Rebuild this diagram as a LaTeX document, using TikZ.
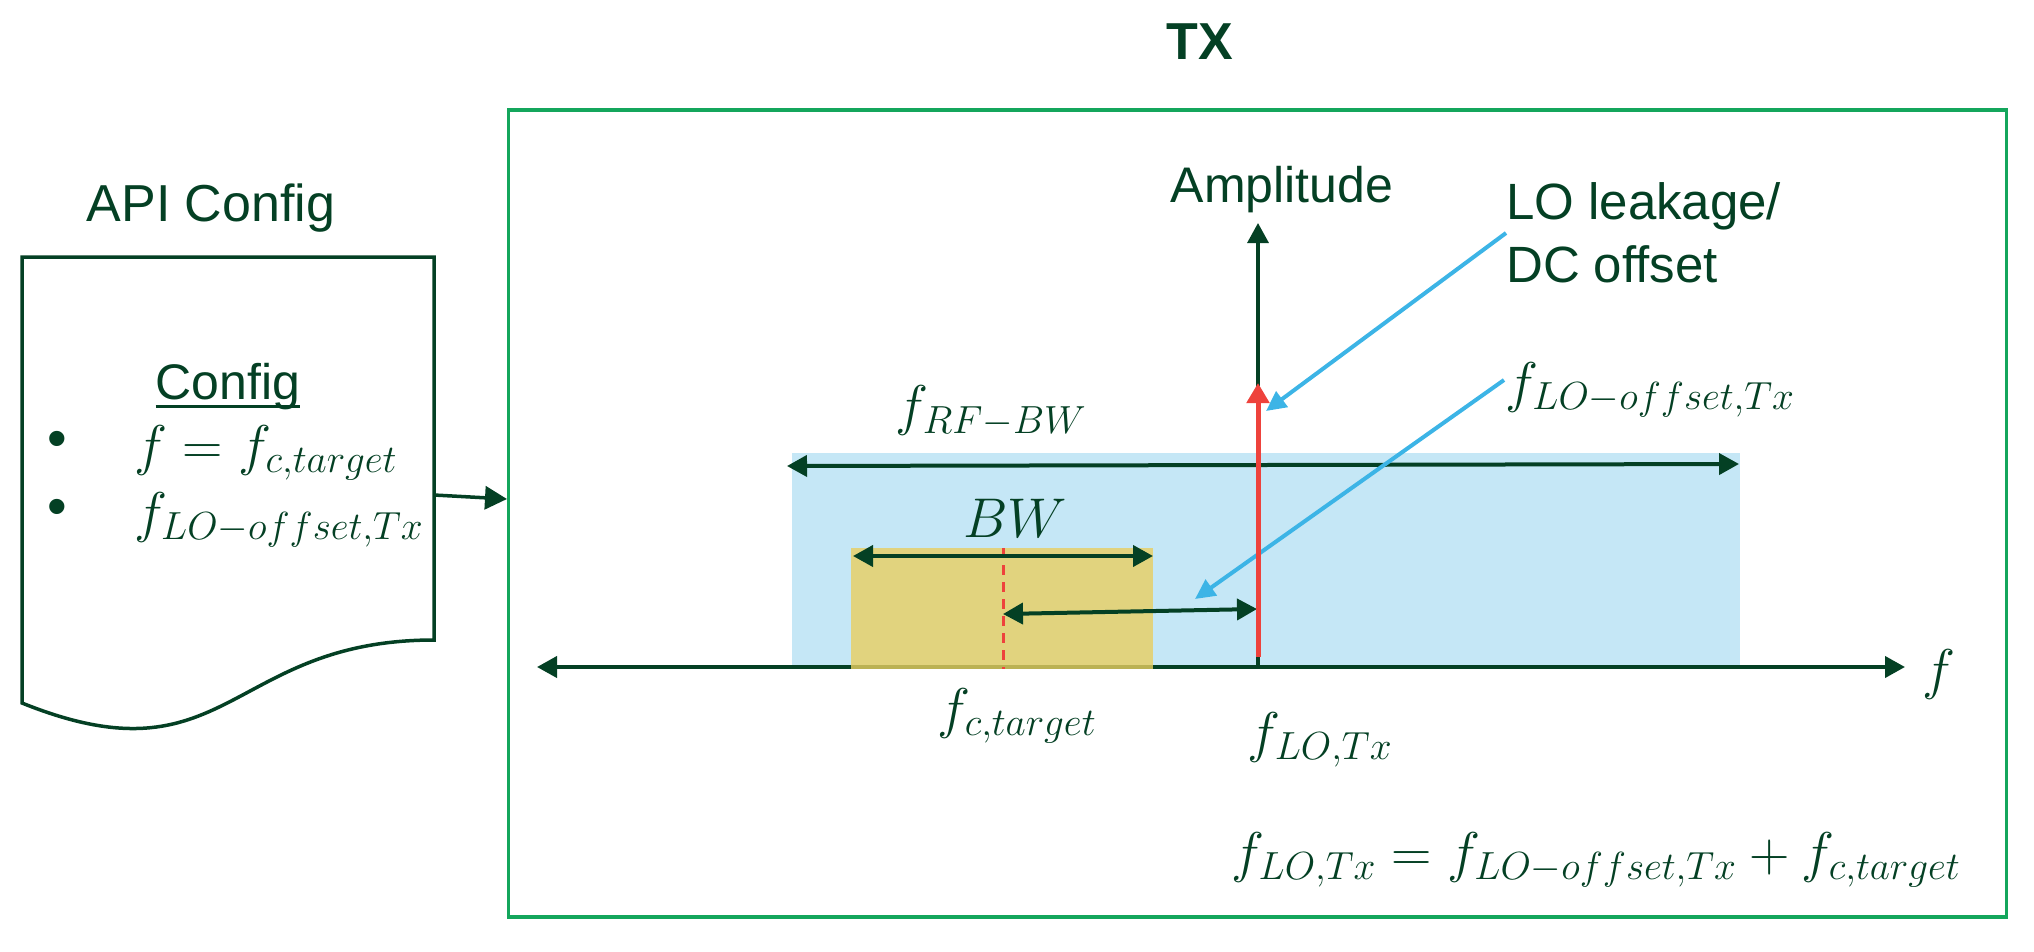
\RequirePackage{fix-cm}
\documentclass[tikz,border=0pt]{standalone}
\usepackage[no-math]{fontspec}
\setmainfont{Liberation Sans}
\usetikzlibrary{arrows.meta}
\definecolor{dkgreen}{RGB}{4,64,36}
\definecolor{boxgreen}{RGB}{20,166,92}
\definecolor{lbluefill}{RGB}{197,231,246}
\definecolor{ylwfill}{RGB}{233,207,96}
\definecolor{redln}{RGB}{238,66,60}
\definecolor{bluearr}{RGB}{60,180,230}
\tikzset{
  lbl/.style={inner sep=0pt, text=dkgreen},
  sanslbl/.style={lbl, font=\fontsize{#1}{#1}\selectfont},
  mathlbl/.style={lbl, font=\fontsize{56}{60}\selectfont},
  axisline/.style={draw=dkgreen, line width=4pt},
  dtip/.style={{Triangle[length=20pt,width=21pt]}-{Triangle[length=20pt,width=21pt]}},
  stip/.style={-{Triangle[length=20pt,width=21pt]}},
  bluearrow/.style={draw=bluearr, line width=4pt, -{Triangle[length=20pt,width=19pt]}},
  redarrow/.style={draw=redln, line width=5pt, -{Triangle[length=20pt,width=22pt]}},
}
\begin{document}
\begin{tikzpicture}[x=1pt,y=-1pt]
\useasboundingbox (0,0) rectangle (2034,951);

% ---- titles
\node[lbl, font=\bfseries\fontsize{52}{52}\selectfont, anchor=base] (tx) at (1200,59) {TX};
\node[sanslbl=52, anchor=base] (apicfg) at (211,221) {API Config};

% ---- document shape
\draw[dkgreen, line width=3.5pt] (22,257) -- (434,257) -- (434,640)
   .. controls (228,640) and (228,786) .. (22,703) -- cycle;
\node[sanslbl=50, anchor=base] (config) at (228,399) {Config};
\draw[dkgreen, line width=3pt] ([yshift=-7pt]config.base west) -- ([yshift=-7pt]config.base east);
\node[sanslbl=56] (bul1) at (57,444) {•};
\node[sanslbl=56] (bul2) at (57,512) {•};
\node[mathlbl, anchor=west] (cfg1) at (134,453) {$f = f_{c,target}$};
\node[mathlbl, anchor=west] (cfg2) at (134,520) {$f_{LO-offset,Tx}$};

% ---- TX box
\node[draw=boxgreen, line width=3.5pt, minimum width=1498pt, minimum height=807pt, inner sep=0pt] (txbox) at (1257.5,513.5) {};
\coordinate (docout) at (434,495);
\coordinate (boxin) at (507,499);
\draw[dkgreen, line width=3.5pt, -{Triangle[length=22pt,width=23pt]}] (docout) -- (boxin);

% ---- spectrum regions
\fill[lbluefill] (792,453) rectangle (1740,667);

\coordinate (fL) at (537,667);
\coordinate (fR) at (1905,667);
\draw[axisline, dtip] (fL) -- (fR);

\fill[ylwfill, fill opacity=0.8] (851,548) rectangle (1153,669);

\coordinate (dashT) at (1003,548);
\coordinate (dashB) at (1003,669);
\draw[redln, line width=3pt, dash pattern=on 10pt off 7pt] (dashT) -- (dashB);

\coordinate (rfL) at (787,466);
\coordinate (rfR) at (1739,464);
\draw[axisline, dtip] (rfL) -- (rfR);

\coordinate (bwL) at (853,556);
\coordinate (bwR) at (1153,556);
\draw[axisline, dtip] (bwL) -- (bwR);

\coordinate (offL) at (1003,614);
\coordinate (offR) at (1257,609);
\draw[axisline, dtip] (offL) -- (offR);

% amplitude axis
\coordinate (ampB) at (1258,667);
\coordinate (ampT) at (1258,223);
\draw[axisline, line width=3.3pt, stip] (ampB) -- (ampT);

% ---- labels
\node[sanslbl=50, anchor=base] (amp) at (1282,202) {Amplitude};
\node[lbl, font=\fontsize{51}{63}\selectfont, anchor=west, align=left] (lolk) at (1506,233) {LO leakage/\\DC offset};
\node[mathlbl] (floff) at (1650,390) {$f_{LO-offset,Tx}$};
\node[mathlbl] (frfbw) at (991,411) {$f_{RF-BW}$};
\node[mathlbl] (bw) at (1015,518) {$BW$};
\node[mathlbl] (fct) at (1017,716) {$f_{c,target}$};
\node[mathlbl] (flotx) at (1320,740) {$f_{LO,Tx}$};
\node[mathlbl] (flab) at (1939,674) {$f$};
\node[mathlbl] (eq) at (1596,860) {$f_{LO,Tx} = f_{LO-offset,Tx} + f_{c,target}$};

% ---- blue pointers
\coordinate (b1e) at (1266,411);
\coordinate (b2s) at (1504,380);
\coordinate (b2e) at (1195,599);
\draw[bluearrow] (lolk.west) -- (b1e);
\draw[bluearrow] (b2s) -- (b2e);

% ---- red LO arrow
\coordinate (redB) at (1258,657);
\coordinate (redT) at (1258,383);
\draw[redarrow] (redB) -- (redT);
\end{tikzpicture}
\end{document}
